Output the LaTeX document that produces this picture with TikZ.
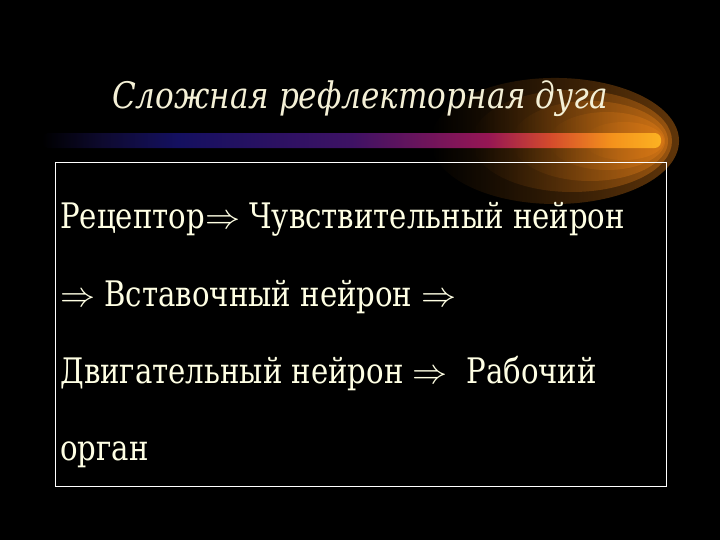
\documentclass[tikz,border=0pt]{standalone}
\usepackage{fontspec}
\setmainfont{DejaVu Serif}
\newfontfamily\serifru[FakeStretch=0.83]{DejaVu Serif}
\newfontfamily\serifhead[FakeStretch=0.85]{DejaVu Serif}
\usetikzlibrary{fadings}

\definecolor{ink}{RGB}{255,255,228}
\definecolor{headink}{RGB}{244,240,214}
\definecolor{glow}{RGB}{230,128,24}
\definecolor{barA}{RGB}{14,10,48}
\definecolor{barB}{RGB}{20,16,96}
\definecolor{barC}{RGB}{62,18,100}
\definecolor{barD}{RGB}{150,22,84}
\definecolor{barE}{RGB}{212,74,44}
\definecolor{barF}{RGB}{244,146,28}
\definecolor{barG}{RGB}{252,178,34}

\pgfdeclarehorizontalshading{barshade}{100bp}{color(0bp)=(black); color(25bp)=(black);
  color(30bp)=(barA); color(36bp)=(barB); color(50bp)=(barC); color(61bp)=(barD);
  color(66bp)=(barE); color(71bp)=(barF); color(75bp)=(barG); color(100bp)=(barG)}

\tikzset{
  headtext/.style={text=headink, font=\serifhead\fontsize{26}{30}\selectfont\itshape, inner sep=0pt, anchor=base},
  rowtext/.style={text=ink, font=\serifru\fontsize{25}{30}\selectfont, inner sep=0pt, anchor=base west}
}

\begin{document}
\begin{tikzpicture}[x=0.025cm,y=-0.025cm]
    % Background
    \fill[black] (0,0) rectangle (720,540);
    \useasboundingbox (0,0) rectangle (720,540);

    % Glow behind the bar
    \foreach \cx/\rx/\ry in {555/124/63, 572/100/51, 590/78/40, 607/58/29, 624/40/19} {
        \fill[glow, fill opacity=0.42, path fading=west] (\cx,141) ellipse [x radius=\rx, y radius=\ry];
    }

    % Bar
    \shade[shading=barshade, rounded corners=0.16cm] (42,133) rectangle (661,148);

    % Title
    \node[headtext] (title) at (360,108) {Сложная рефлекторная дуга};

    % Box with the chain
    \draw[white, line width=0.6pt] (55,162) rectangle (666,486);
    \node[rowtext] (row1) at (60,228) {Рецептор$\Rightarrow$ Чувствительный нейрон};
    \node[rowtext] (row2) at (60,306) {$\Rightarrow$ Вставочный нейрон $\Rightarrow$};
    \node[rowtext] (row3) at (60,383) {Двигательный нейрон $\Rightarrow$\ \ Рабочий};
    \node[rowtext] (row4) at (60,460) {орган};
\end{tikzpicture}
\end{document}
